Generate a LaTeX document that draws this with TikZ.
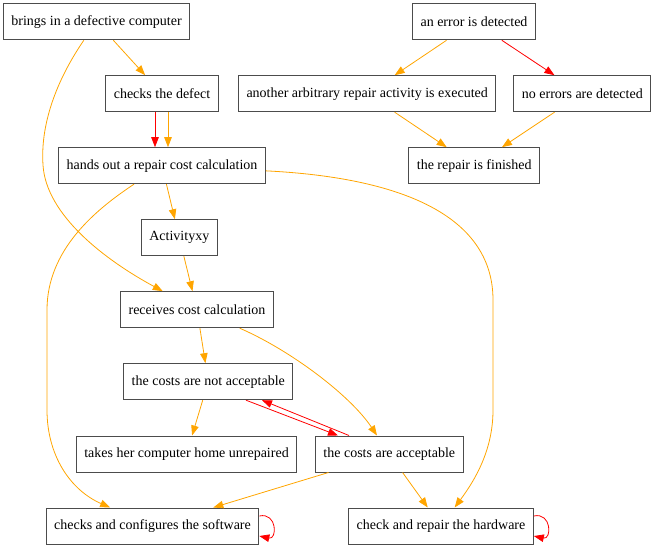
\documentclass[tikz,border=0pt]{standalone}
\usepackage{fontspec}
\setmainfont{Liberation Serif}
\usetikzlibrary{arrows.meta}
\definecolor{edgeorange}{HTML}{FFA500}
\tikzset{
	box/.style={draw=black!70, line width=1pt, rectangle, minimum height=36pt, inner xsep=8pt, font=\fontsize{14pt}{17pt}\selectfont},
	oline/.style={edgeorange, line width=0.8pt, -{Triangle[length=10pt,width=7.5pt]}},
	rline/.style={red, line width=0.8pt, -{Triangle[length=10pt,width=7.5pt]}}
}
\begin{document}
\begin{tikzpicture}[x=1pt, y=-1pt]
	\useasboundingbox (0,0) rectangle (655,548);
	\node[box] (brings) at (96.5,21.8) {brings in a defective computer};
	\node[box] (defect) at (162,93.7) {checks the defect};
	\node[box] (handsout) at (162,165.7) {hands out a repair cost calculation};
	\node[box] (error) at (474,21.8) {an error is detected};
	\node[box] (another) at (367.2,93.7) {another arbitrary repair activity is executed};
	\node[box] (noerr) at (582.3,93.7) {no errors are detected};
	\node[box] (finished) at (474.2,165.7) {the repair is finished};
	\node[box] (activity) at (179.3,237.7) {Activityxy};
	\node[box] (receives) at (197,309.7) {receives cost calculation};
	\node[box] (notacc) at (208.3,381.7) {the costs are not acceptable};
	\node[box] (home) at (186.5,454) {takes her computer home unrepaired};
	\node[box] (acc) at (389.3,454) {the costs are acceptable};
	\node[box] (software) at (152.5,526) {checks and configures the software};
	\node[box] (hardware) at (441,526) {check and repair the hardware};
	% upper part
	\draw[oline] (brings) -- (defect);
	\draw[rline] ([xshift=-7pt]defect.south) -- ([xshift=-7pt]handsout.north);
	\draw[oline] ([xshift=6pt]defect.south) -- ([xshift=6pt]handsout.north);
	\draw[oline] (error) -- (another);
	\draw[rline] (error) -- (noerr);
	\draw[oline] (another) -- (finished);
	\draw[oline] (noerr) -- (finished);
	\draw[oline] (handsout) -- (activity);
	\draw[oline] (activity) -- (receives);
	\draw[oline] (brings) .. controls (60,75) and (40,120) .. (43,165)
		.. controls (46,215) and (105,260) .. (receives);
	\draw[oline] (handsout) .. controls (95,210) and (47,250) .. (47,310) -- (47,410)
		.. controls (47,455) and (70,490) .. (software);
	\draw[oline] (handsout) .. controls (410,178) and (493,220) .. (493,300) -- (493,410)
		.. controls (493,450) and (475,480) .. (hardware);
	% lower part
	\draw[oline] (receives) -- (notacc);
	\draw[oline] (receives) .. controls (290,350) and (350,395) .. (acc);
	\draw[oline] (notacc) -- (home);
	\draw[rline] ([xshift=37.7pt]notacc.south) -- ([xshift=-51.3pt]acc.north);
	\draw[rline] ([xshift=-40.3pt]acc.north) -- ([xshift=53.7pt]notacc.south);
	\draw[oline] (acc) -- (software);
	\draw[oline] (acc) -- (hardware);
	\draw[rline] ([yshift=10pt]software.east) .. controls +(18,-4) and +(18,4) .. ([yshift=-10pt]software.east);
	\draw[rline] ([yshift=10pt]hardware.east) .. controls +(18,-4) and +(18,4) .. ([yshift=-10pt]hardware.east);
\end{tikzpicture}
\end{document}
